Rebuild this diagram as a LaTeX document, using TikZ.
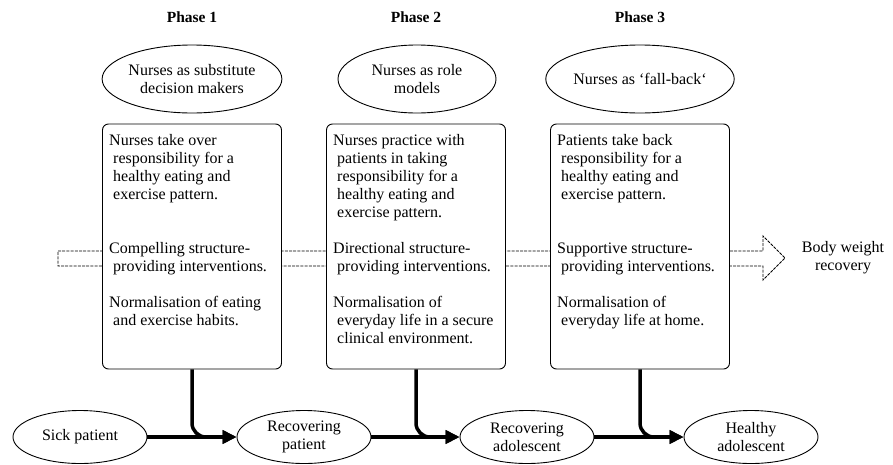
\documentclass[tikz,border=0pt]{standalone}
\usepackage{fontspec}
\setmainfont{Liberation Serif}
\usetikzlibrary{arrows.meta,shapes.geometric}
\begin{document}
\begin{tikzpicture}[x=1pt,y=-1pt,
  every node/.style={font=\fontsize{16}{18}\selectfont},
  box/.style={draw, rounded corners=6pt, fill=white, minimum width=179pt, minimum height=245pt, inner sep=0pt, line width=0.9pt},
  role/.style={draw, ellipse, minimum width=158pt, minimum height=68pt, inner sep=0pt, align=center, line width=0.9pt},
  stateell/.style={draw, ellipse, minimum width=134pt, minimum height=53pt, inner sep=0pt, align=center, line width=0.9pt},
  flow/.style={line width=3.5pt, -{Triangle[length=14pt,width=13pt]}},
  feed/.style={flow, rounded corners=14pt},
  boxtext/.style={anchor=north west, align=left, inner sep=0pt},
  phase/.style={font=\fontsize{15.5}{18}\selectfont\bfseries, anchor=base},
  bigarrow/.style={draw, line width=0.9pt, dash pattern=on 3pt off 1.2pt}
]
\useasboundingbox (0,0) rectangle (893,464);
\newcommand{\topstrut}{\rule{0pt}{12pt}}

% dashed block arrow behind the boxes
\draw[bigarrow] (58,251) -- (763,251) -- (763,236) -- (785,258) -- (763,280) -- (763,266) -- (58,266) -- cycle;
\node[align=center] (bw) at (843,258) {Body weight\\recovery};

% phase labels
\node[phase] (p1) at (192,22) {Phase 1};
\node[phase] (p2) at (416,22) {Phase 2};
\node[phase] (p3) at (640,22) {Phase 3};

% roles
\node[role] (r1) at (192,79) {Nurses as substitute\\decision makers};
\node[role] (r2) at (417,79) {Nurses as role\\models};
\node[role] (r3) at (640,79) {Nurses as ‘fall-back‘};

% boxes
\node[box] (b1) at (192,246.5) {};
\node[box] (b2) at (416,246.5) {};
\node[box] (b3) at (640,246.5) {};

\node[boxtext] (t1) at (109,133) {\topstrut Nurses take over\\\hspace*{4pt}responsibility for a\\\hspace*{4pt}healthy eating and\\\hspace*{4pt}exercise pattern.\\[36pt]Compelling structure-\\\hspace*{4pt}providing interventions.\\[18pt]Normalisation of eating\\\hspace*{4pt}and exercise habits.};
\node[boxtext] (t2) at (333,133) {\topstrut Nurses practice with\\\hspace*{4pt}patients in taking\\\hspace*{4pt}responsibility for a\\\hspace*{4pt}healthy eating and\\\hspace*{4pt}exercise pattern.\\[18pt]Directional structure-\\\hspace*{4pt}providing interventions.\\[18pt]Normalisation of\\\hspace*{4pt}everyday life in a secure\\\hspace*{4pt}clinical environment.};
\node[boxtext] (t3) at (557,133) {\topstrut Patients take back\\\hspace*{4pt}responsibility for a\\\hspace*{4pt}healthy eating and\\\hspace*{4pt}exercise pattern.\\[36pt]Supportive structure-\\\hspace*{4pt}providing interventions.\\[18pt]Normalisation of\\\hspace*{4pt}everyday life at home.};

% states
\node[stateell] (s1) at (80,437) {Sick patient};
\node[stateell] (s2) at (304,437) {Recovering\\patient};
\node[stateell] (s3) at (527,437) {Recovering\\adolescent};
\node[stateell] (s4) at (751,437) {Healthy\\adolescent};

% flows
\draw[flow] (s1) -- (s2);
\draw[flow] (s2) -- (s3);
\draw[flow] (s3) -- (s4);
\draw[feed] (b1.south) |- (s2.west);
\draw[feed] (b2.south) |- (s3.west);
\draw[feed] (b3.south) |- (s4.west);
\end{tikzpicture}
\end{document}
